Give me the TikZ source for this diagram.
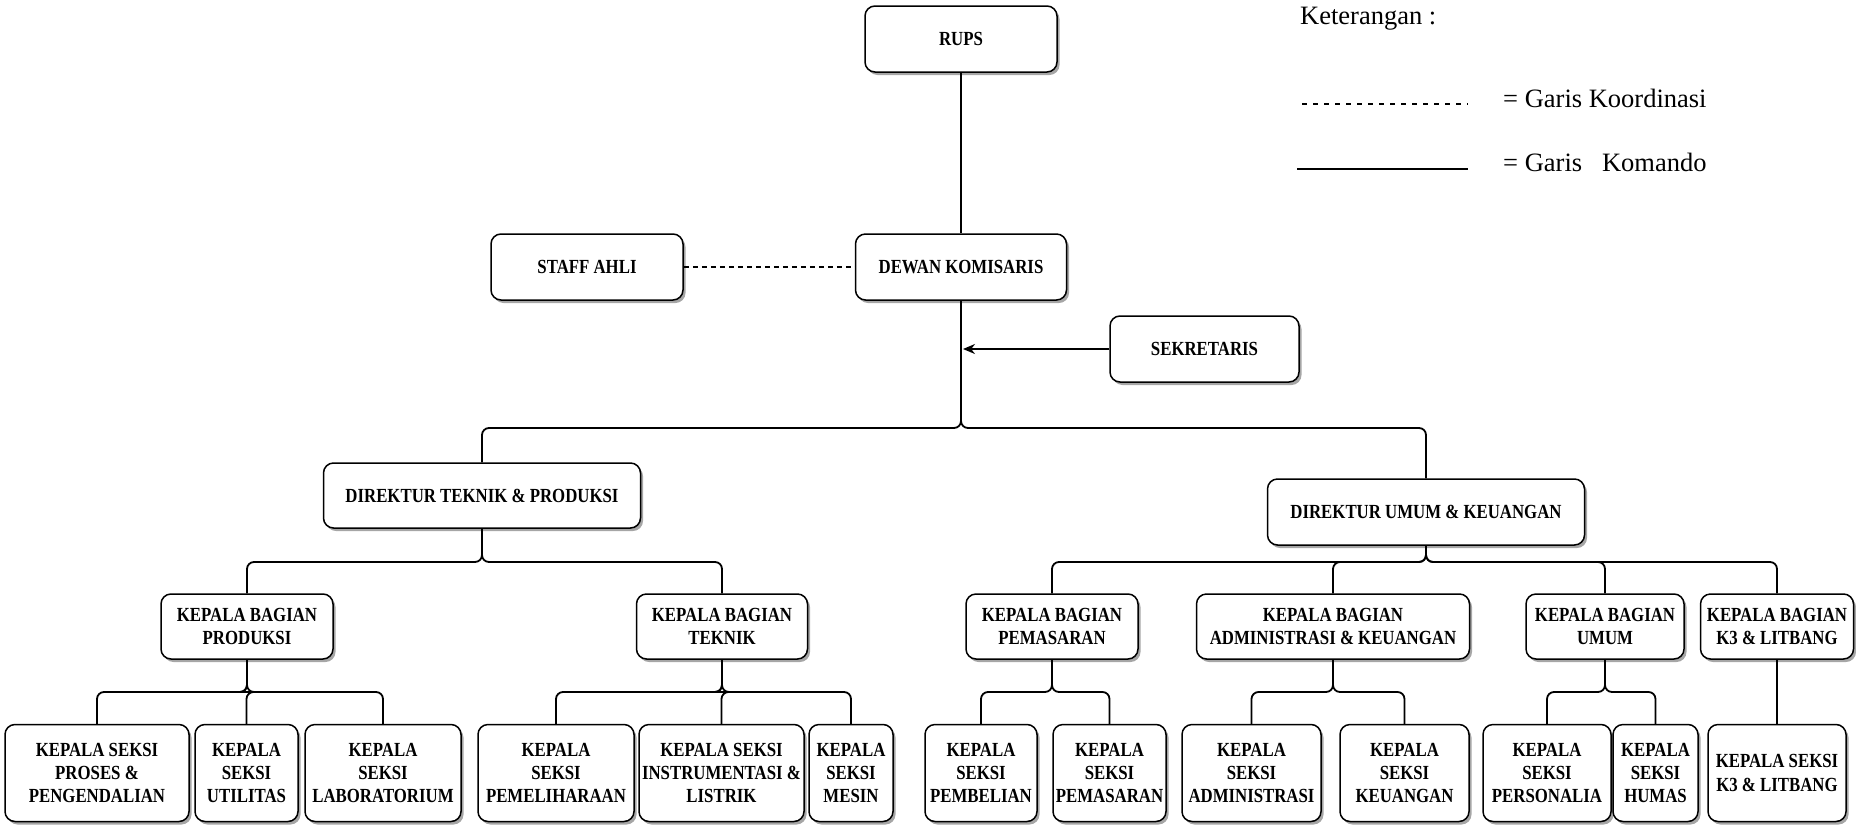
\documentclass[tikz,border=0pt]{standalone}
\usepackage{fontspec}
\setmainfont{Liberation Serif}
\newfontfamily\boxfont{Liberation Serif}[FakeStretch=0.84]
\usetikzlibrary{shadows,arrows.meta}
\begin{document}
\begin{tikzpicture}[x=1pt,y=-1pt,
  box/.style={draw, line width=1.5pt, rounded corners=10pt, fill=white, align=center, inner sep=2pt,
    font={\boxfont\bfseries\fontsize{20}{23.3}\selectfont},
    drop shadow={shadow xshift=2.5pt,shadow yshift=-3pt,fill=black,opacity=0.35}},
  top/.style={box, minimum height=66pt},
  kb/.style={box, minimum height=65pt},
  ks/.style={box, minimum height=97pt},
  cmd/.style={line width=1.8pt, rounded corners=7pt},
  coordline/.style={line width=1.6pt, dash pattern=on 5pt off 4pt},
  legend/.style={font={\fontsize{26.5}{30}\selectfont}, anchor=base west, inner sep=0pt},
]
\useasboundingbox (0,0) rectangle (1856,825);

% top level
\node[top, minimum width=192pt] (rups) at (961,39) {RUPS};
\node[top, minimum width=211pt] (dewan) at (961,267) {DEWAN KOMISARIS};
\node[top, minimum width=192pt] (staff) at (587,267) {STAFF AHLI};
\node[top, minimum width=189pt] (sek) at (1204.5,349) {SEKRETARIS};

% directors
\node[kb, minimum width=317pt] (dirT) at (482,495.5) {DIREKTUR TEKNIK \& PRODUKSI};
\node[top, minimum width=317pt] (dirU) at (1426,512) {DIREKTUR UMUM \& KEUANGAN};

% kepala bagian
\node[kb, minimum width=172pt] (kbProd) at (247,626.5) {KEPALA BAGIAN\\PRODUKSI};
\node[kb, minimum width=171pt] (kbTek) at (722,626.5) {KEPALA BAGIAN\\TEKNIK};
\node[kb, minimum width=172pt] (kbPem) at (1052,626.5) {KEPALA BAGIAN\\PEMASARAN};
\node[kb, minimum width=273pt] (kbAdm) at (1333,626.5) {KEPALA BAGIAN\\ADMINISTRASI \& KEUANGAN};
\node[kb, minimum width=158pt] (kbUm) at (1605,626.5) {KEPALA BAGIAN\\UMUM};
\node[kb, minimum width=153pt] (kbK3) at (1777,626.5) {KEPALA BAGIAN\\K3 \& LITBANG};

% kepala seksi
\node[ks, minimum width=184pt] (ksPro) at (97,773) {KEPALA SEKSI\\PROSES \&\\PENGENDALIAN};
\node[ks, minimum width=103pt] (ksUti) at (246.5,773) {KEPALA\\SEKSI\\UTILITAS};
\node[ks, minimum width=156pt] (ksLab) at (383,773) {KEPALA\\SEKSI\\LABORATORIUM};
\node[ks, minimum width=156pt] (ksPml) at (556,773) {KEPALA\\SEKSI\\PEMELIHARAAN};
\node[ks, minimum width=165pt] (ksIns) at (721.5,773) {KEPALA SEKSI\\INSTRUMENTASI \&\\LISTRIK};
\node[ks, minimum width=84pt] (ksMes) at (851,773) {KEPALA\\SEKSI\\MESIN};
\node[ks, minimum width=112pt] (ksBel) at (981,773) {KEPALA\\SEKSI\\PEMBELIAN};
\node[ks, minimum width=113pt] (ksPms) at (1109.5,773) {KEPALA\\SEKSI\\PEMASARAN};
\node[ks, minimum width=139pt] (ksAdm) at (1251.5,773) {KEPALA\\SEKSI\\ADMINISTRASI};
\node[ks, minimum width=129pt] (ksKeu) at (1404.5,773) {KEPALA\\SEKSI\\KEUANGAN};
\node[ks, minimum width=128pt] (ksPer) at (1547,773) {KEPALA\\SEKSI\\PERSONALIA};
\node[ks, minimum width=85pt] (ksHum) at (1655.5,773) {KEPALA\\SEKSI\\HUMAS};
\node[ks, minimum width=138pt] (ksK3) at (1777,773) {KEPALA SEKSI\\K3 \& LITBANG};

% bus levels
\coordinate (busTop) at (0,428);
\coordinate (busDir) at (0,562);
\coordinate (busKB) at (0,692);

% command lines
\draw[cmd] (rups.south) -- (dewan.north);
\draw[cmd] (dewan.south) |- (dirT.north |- busTop) -- (dirT.north);
\draw[cmd] (dewan.south) |- (dirU.north |- busTop) -- (dirU.north);

\foreach \c in {kbProd,kbTek}
  \draw[cmd] (dirT.south) |- (\c.north |- busDir) -- (\c.north);
\foreach \c in {kbPem,kbAdm,kbUm,kbK3}
  \draw[cmd] (dirU.south) |- (\c.north |- busDir) -- (\c.north);

\foreach \p/\c in {kbProd/ksPro,kbProd/ksUti,kbProd/ksLab,
                   kbTek/ksPml,kbTek/ksIns,kbTek/ksMes,
                   kbPem/ksBel,kbPem/ksPms,
                   kbAdm/ksAdm,kbAdm/ksKeu,
                   kbUm/ksPer,kbUm/ksHum}
  \draw[cmd] (\p.south) |- (\c.north |- busKB) -- (\c.north);
\draw[cmd] (kbK3.south) -- (ksK3.north);

% coordination line
\draw[coordline] (staff.east) -- (dewan.west);

% secretary arrow
\draw[line width=1.8pt, -{Stealth[length=12pt,width=10pt]}, shorten >=2pt] (sek.west) -- (sek.west -| dewan.south);

% legend
\node[legend] (ket) at (1300,24) {Keterangan :};
\coordinate (ld1) at (1302,104);
\coordinate (ld2) at (1468,104);
\draw[line width=1.5pt, dash pattern=on 5pt off 6pt] (ld1) -- (ld2);
\node[legend] (lgk) at (1503,107) {= Garis Koordinasi};
\coordinate (ls1) at (1297,169);
\coordinate (ls2) at (1468,169);
\draw[line width=2pt] (ls1) -- (ls2);
\node[legend] (lgm) at (1503,171) {= Garis~~~Komando};
\end{tikzpicture}
\end{document}
